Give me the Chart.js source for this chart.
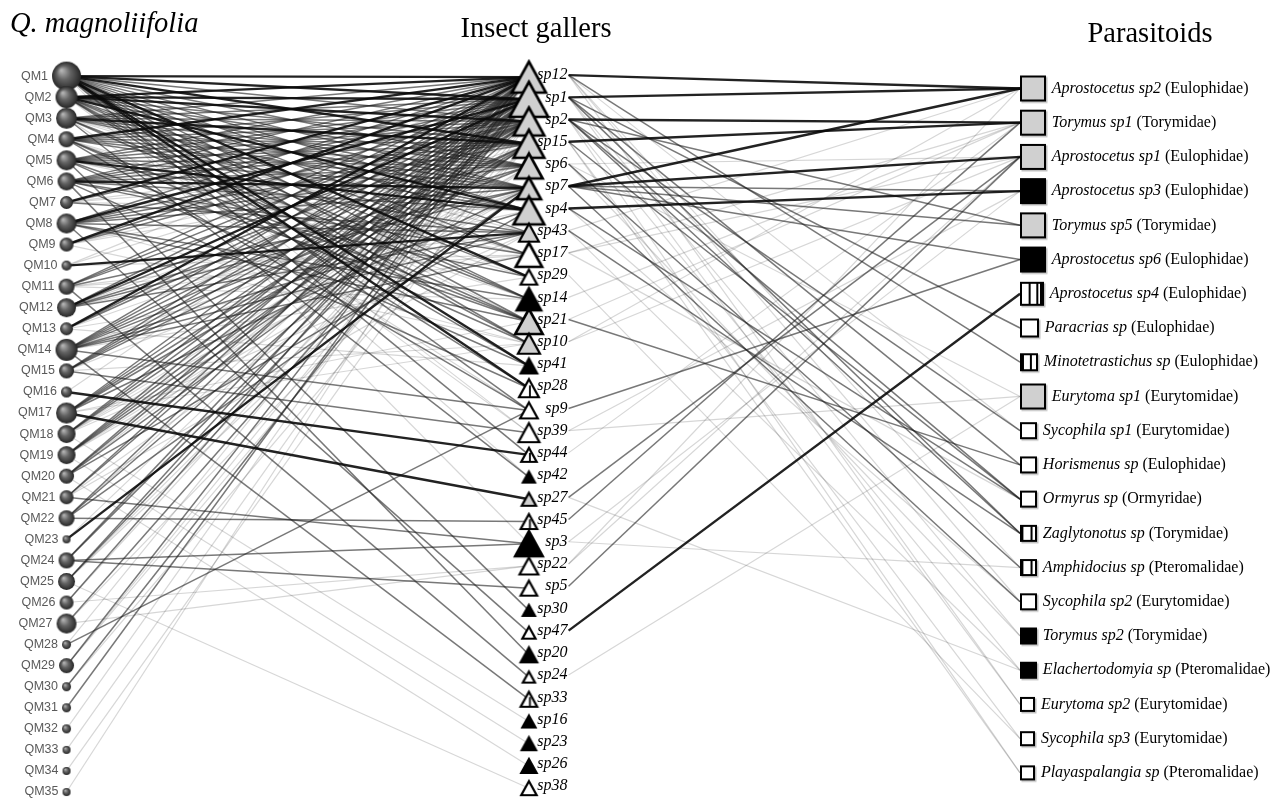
<!DOCTYPE html>
<html>
<head>
<meta charset="utf-8">
<script src="https://cdn.jsdelivr.net/npm/chart.js@4/dist/chart.umd.min.js"></script>
<style>
  html, body { margin: 0; padding: 0; background: #fff; }
  #wrap { width: 1285px; height: 807px; position: relative; }
</style>
</head>
<body>
<div id="wrap"><canvas id="web"></canvas></div>
<script>
// ---- data ----
const hostNames = ["QM1","QM2","QM3","QM4","QM5","QM6","QM7","QM8","QM9","QM10","QM11","QM12",
  "QM13","QM14","QM15","QM16","QM17","QM18","QM19","QM20","QM21","QM22","QM23","QM24",
  "QM25","QM26","QM27","QM28","QM29","QM30","QM31","QM32","QM33","QM34","QM35"];
const hostSize = [14.5,11,10.5,8,10,9,6.5,10,7,5,8,9.5,6.5,11,7.5,5.5,10.5,9,9,7.5,7,8,4,8,
  8.5,7,10,4.5,7.5,4.5,4.5,4.5,4,4,4];

const gallerNames = ["sp12","sp1","sp2","sp15","sp6","sp7","sp4","sp43","sp17","sp29","sp14",
  "sp21","sp10","sp41","sp28","sp9","sp39","sp44","sp42","sp27","sp45","sp3","sp22","sp5",
  "sp30","sp47","sp20","sp24","sp33","sp16","sp23","sp26","sp38"];
const gallerSize = [31,35,28,28,25,22,28,18,24,15,22,25,20,15,18,16,19,14,11,13,15,25,17,15,
  11,12,15,11,15,12,13,14,14];
// g = grey, w = white, h = white with bar, b = black
const gallerFill = ["g","g","g","g","g","g","g","g","w","w","b","g","g","b","h","w","w","h","b",
  "g","h","b","w","w","b","w","b","w","h","b","b","b","w"];

const parasitoidGenus = ["Aprostocetus sp2","Torymus sp1","Aprostocetus sp1","Aprostocetus sp3",
  "Torymus sp5","Aprostocetus sp6","Aprostocetus sp4","Paracrias sp","Minotetrastichus sp",
  "Eurytoma sp1","Sycophila sp1","Horismenus sp","Ormyrus sp","Zaglytonotus sp","Amphidocius sp",
  "Sycophila sp2","Torymus sp2","Elachertodomyia sp","Eurytoma sp2","Sycophila sp3","Playaspalangia sp"];
const parasitoidFamily = ["Eulophidae","Torymidae","Eulophidae","Eulophidae","Torymidae","Eulophidae",
  "Eulophidae","Eulophidae","Eulophidae","Eurytomidae","Eurytomidae","Eulophidae","Ormyridae",
  "Torymidae","Pteromalidae","Eurytomidae","Torymidae","Pteromalidae","Eurytomidae","Eurytomidae",
  "Pteromalidae"];
const parasitoidSize = [26,26,26,26,26,26,24,19,18,26,17,17,17,17,17,17,17,17,15,15,15];
const parasitoidFill = ["g","g","g","b","g","b","h3","w","h2","g","w","w","w","h1","h1","w","b","b","w","w","w"];

// host -> galler links, strength 1 (faint) .. 3 (heavy)
const hostLinks = [
  ["QM1","sp12",3],["QM1","sp1",3],["QM1","sp2",2],["QM1","sp15",3],["QM1","sp6",2],["QM1","sp7",2],
  ["QM1","sp4",2],["QM1","sp43",2],["QM1","sp17",2],["QM1","sp29",3],["QM1","sp14",2],["QM1","sp21",2],
  ["QM1","sp41",3],["QM1","sp10",2],["QM1","sp28",3],["QM1","sp9",2],["QM1","sp3",1],["QM1","sp39",1],
  ["QM1","sp44",2],["QM1","sp42",1],
  ["QM2","sp12",3],["QM2","sp1",3],["QM2","sp2",3],["QM2","sp15",2],["QM2","sp6",2],["QM2","sp7",2],
  ["QM2","sp4",3],["QM2","sp17",2],["QM2","sp14",2],["QM2","sp28",2],["QM2","sp39",1],["QM2","sp21",1],
  ["QM2","sp10",2],["QM2","sp41",2],["QM2","sp29",2],
  ["QM3","sp12",2],["QM3","sp1",2],["QM3","sp2",2],["QM3","sp15",3],["QM3","sp6",2],["QM3","sp7",2],
  ["QM3","sp14",2],["QM3","sp21",2],["QM3","sp42",2],["QM3","sp43",1],["QM3","sp4",2],["QM3","sp17",1],
  ["QM3","sp9",1],
  ["QM4","sp12",3],["QM4","sp1",2],["QM4","sp2",2],["QM4","sp6",2],["QM4","sp4",2],["QM4","sp10",2],
  ["QM4","sp9",2],["QM4","sp29",1],["QM4","sp15",2],["QM4","sp7",2],["QM4","sp21",2],["QM4","sp14",1],
  ["QM5","sp12",2],["QM5","sp1",2],["QM5","sp15",2],["QM5","sp7",2],["QM5","sp4",3],["QM5","sp43",2],
  ["QM5","sp21",2],["QM5","sp41",2],["QM5","sp30",2],["QM5","sp2",2],["QM5","sp6",2],["QM5","sp17",1],
  ["QM6","sp12",2],["QM6","sp1",2],["QM6","sp2",2],["QM6","sp7",3],["QM6","sp6",2],["QM6","sp17",2],
  ["QM6","sp29",2],["QM6","sp20",2],["QM6","sp15",2],["QM6","sp4",2],["QM6","sp28",2],
  ["QM7","sp12",3],["QM7","sp1",2],["QM7","sp15",1],["QM7","sp4",1],["QM7","sp43",2],["QM7","sp6",1],
  ["QM8","sp12",2],["QM8","sp1",3],["QM8","sp2",2],["QM8","sp15",2],["QM8","sp7",2],["QM8","sp43",2],
  ["QM8","sp14",2],["QM8","sp21",2],["QM8","sp47",2],["QM8","sp6",2],["QM8","sp10",1],
  ["QM9","sp12",3],["QM9","sp1",2],["QM9","sp6",1],["QM9","sp10",1],["QM9","sp2",2],["QM9","sp15",1],
  ["QM10","sp43",3],["QM10","sp12",1],["QM10","sp17",1],["QM10","sp2",1],
  ["QM11","sp12",2],["QM11","sp1",2],["QM11","sp7",2],["QM11","sp17",1],["QM11","sp24",2],
  ["QM11","sp2",2],["QM11","sp43",1],["QM11","sp14",1],
  ["QM12","sp12",2],["QM12","sp1",3],["QM12","sp2",2],["QM12","sp15",1],["QM12","sp4",1],
  ["QM12","sp7",2],["QM12","sp43",2],["QM12","sp6",2],
  ["QM13","sp12",3],["QM13","sp2",2],["QM13","sp6",1],["QM13","sp41",1],["QM13","sp1",2],["QM13","sp17",1],
  ["QM14","sp12",2],["QM14","sp1",2],["QM14","sp2",2],["QM14","sp15",2],["QM14","sp7",1],["QM14","sp43",2],
  ["QM14","sp17",2],["QM14","sp29",1],["QM14","sp9",2],["QM14","sp33",2],["QM14","sp6",2],["QM14","sp4",2],
  ["QM15","sp12",2],["QM15","sp1",2],["QM15","sp2",2],["QM15","sp10",1],["QM15","sp39",2],
  ["QM15","sp15",2],["QM15","sp7",1],
  ["QM16","sp44",3],["QM16","sp12",1],
  ["QM17","sp27",3],["QM17","sp12",2],["QM17","sp1",2],["QM17","sp21",1],["QM17","sp10",1],
  ["QM17","sp2",2],["QM17","sp15",2],["QM17","sp7",2],
  ["QM18","sp12",2],["QM18","sp1",2],["QM18","sp15",1],["QM18","sp7",1],["QM18","sp16",1],
  ["QM18","sp2",2],["QM18","sp6",1],["QM18","sp43",1],
  ["QM19","sp12",2],["QM19","sp1",2],["QM19","sp2",2],["QM19","sp6",1],["QM19","sp23",1],
  ["QM19","sp15",2],["QM19","sp7",1],
  ["QM20","sp12",2],["QM20","sp1",2],["QM20","sp4",2],["QM20","sp26",1],["QM20","sp2",1],["QM20","sp15",2],
  ["QM21","sp3",2],["QM21","sp1",2],["QM21","sp43",1],["QM21","sp12",2],["QM21","sp6",1],
  ["QM22","sp45",2],["QM22","sp2",2],["QM22","sp7",2],["QM22","sp12",2],["QM22","sp1",1],
  ["QM23","sp7",3],["QM23","sp1",1],
  ["QM24","sp5",2],["QM24","sp12",2],["QM24","sp1",2],["QM24","sp3",2],
  ["QM25","sp12",2],["QM25","sp1",2],["QM25","sp2",1],["QM25","sp38",1],["QM25","sp15",1],
  ["QM26","sp22",1],["QM26","sp12",2],["QM26","sp1",1],
  ["QM27","sp22",1],["QM27","sp1",2],["QM27","sp15",1],
  ["QM28","sp9",2],["QM28","sp12",1],
  ["QM29","sp12",2],["QM29","sp2",1],["QM29","sp1",1],
  ["QM30","sp1",2],["QM30","sp15",1],
  ["QM31","sp12",2],
  ["QM32","sp12",1],
  ["QM33","sp1",1],
  ["QM34","sp2",1],
  ["QM35","sp12",1]
];

// galler -> parasitoid links (parasitoid index into parasitoidGenus)
const parasitoidLinks = [
  ["sp12",0,3],["sp12",8,2],["sp12",18,1],["sp12",10,1],["sp12",15,1],["sp12",14,1],
  ["sp1",0,3],["sp1",11,2],["sp1",18,1],["sp1",7,2],["sp1",16,1],["sp1",13,2],
  ["sp2",1,3],["sp2",4,2],["sp2",13,2],["sp2",20,1],["sp2",10,2],["sp2",17,1],["sp2",12,2],
  ["sp15",1,3],["sp15",12,2],["sp15",19,1],["sp15",20,1],
  ["sp6",9,1],["sp6",16,1],["sp6",14,2],["sp6",2,1],
  ["sp7",0,3],["sp7",2,3],["sp7",3,2],["sp7",4,2],["sp7",5,2],["sp7",15,2],
  ["sp4",3,3],["sp4",15,1],["sp4",12,2],
  ["sp43",13,2],["sp43",17,1],["sp43",0,1],
  ["sp17",12,1],["sp17",1,1],["sp17",2,1],
  ["sp29",19,1],
  ["sp14",1,1],
  ["sp21",1,1],["sp21",11,2],
  ["sp10",2,1],["sp10",0,1],
  ["sp9",5,2],
  ["sp39",3,1],["sp39",9,1],
  ["sp44",1,1],
  ["sp27",2,2],["sp27",17,1],
  ["sp45",1,2],
  ["sp3",14,1],["sp3",3,1],
  ["sp22",0,1],["sp22",2,1],
  ["sp5",2,2],
  ["sp47",6,3],
  ["sp24",9,1]
];

// ---- layout ----
const HOST_X = 62, GALLER_X = 528, GALLER_LABEL_RIGHT = 567, PARA_LEFT = 1023;
const hostY = (i) => 72 + i * 21.32;
const gallerY = (i) => 71 + i * 22.5;
const paraY = (i) => 84.5 + i * 34.65;

const edgeStyle = {
  3: { color: "rgba(10,10,10,0.9)", width: 2.4, order: 1 },
  2: { color: "rgba(30,30,30,0.6)", width: 1.5, order: 2 },
  1: { color: "rgba(0,0,0,0.16)", width: 1.2, order: 3 },
};

function sphere(r) {
  const s = Math.ceil(r * 2 + 2);
  const c = document.createElement("canvas");
  c.width = c.height = s;
  const g = c.getContext("2d");
  const cx = s / 2, cy = s / 2;
  const grad = g.createRadialGradient(cx - r * 0.35, cy - r * 0.4, r * 0.05, cx, cy, r);
  grad.addColorStop(0, "#b4b4b4");
  grad.addColorStop(0.45, "#636363");
  grad.addColorStop(1, "#262626");
  g.fillStyle = grad;
  g.beginPath();
  g.arc(cx, cy, r, 0, Math.PI * 2);
  g.fill();
  return c;
}

function triangle(h, fill) {
  const w = h * 1.1;
  const lw = h > 20 ? 2.6 : 2.2;
  const pad = 3;
  const c = document.createElement("canvas");
  c.width = Math.ceil(w + pad * 2);
  c.height = Math.ceil(h + pad * 2);
  const g = c.getContext("2d");
  const cx = c.width / 2;
  g.beginPath();
  g.moveTo(cx, pad);
  g.lineTo(cx + w / 2, pad + h);
  g.lineTo(cx - w / 2, pad + h);
  g.closePath();
  g.fillStyle = fill === "g" ? "#d0d0d0" : fill === "b" ? "#000" : "#fff";
  g.fill();
  g.lineJoin = "miter";
  g.lineWidth = lw;
  g.strokeStyle = "#000";
  g.stroke();
  if (fill === "h") {
    g.beginPath();
    g.moveTo(cx + 1, pad + h * 0.35);
    g.lineTo(cx + 1, pad + h);
    g.lineWidth = 1.8;
    g.stroke();
  }
  return c;
}

function box(side, fill) {
  const pad = 3;
  const c = document.createElement("canvas");
  c.width = c.height = Math.ceil(side + pad * 2);
  const g = c.getContext("2d");
  const x0 = pad, y0 = pad;
  g.fillStyle = "rgba(0,0,0,0.25)";
  g.fillRect(x0 + 1.5, y0 + 1.5, side, side);
  g.fillStyle = fill === "g" ? "#d0d0d0" : fill === "b" ? "#000" : "#fff";
  g.fillRect(x0, y0, side, side);
  g.lineWidth = 2;
  g.strokeStyle = "#000";
  g.strokeRect(x0 + 1, y0 + 1, side - 2, side - 2);
  g.fillStyle = "#000";
  if (fill === "h3") {
    g.fillRect(x0 + side * 0.36, y0, 2, side);
    g.fillRect(x0 + side * 0.68, y0, 2, side);
    g.fillRect(x0 + side - 4, y0, 4, side);
  } else if (fill === "h2") {
    g.fillRect(x0, y0, side * 0.22, side);
    g.fillRect(x0 + side * 0.55, y0, 2, side);
  } else if (fill === "h1") {
    g.fillRect(x0, y0, side * 0.2, side);
    g.fillRect(x0 + side * 0.62, y0, 2, side);
  }
  return c;
}

// ---- datasets ----
const gallerIndex = Object.fromEntries(gallerNames.map((n, i) => [n, i]));
const hostIndex = Object.fromEntries(hostNames.map((n, i) => [n, i]));

const datasets = [];

datasets.push({
  type: "scatter",
  data: hostNames.map((_, i) => ({ x: HOST_X, y: hostY(i) })),
  pointStyle: hostSize.map((r) => sphere(r)),
  order: 0,
  clip: false,
});
datasets.push({
  type: "scatter",
  data: gallerNames.map((_, i) => ({ x: GALLER_X, y: gallerY(i) + 2 })),
  pointStyle: gallerSize.map((h, i) => triangle(h, gallerFill[i])),
  order: 0,
  clip: false,
});
datasets.push({
  type: "scatter",
  data: parasitoidGenus.map((_, i) => ({ x: PARA_LEFT + parasitoidSize[i] / 2, y: paraY(i) })),
  pointStyle: parasitoidSize.map((s, i) => box(s, parasitoidFill[i])),
  order: 0,
  clip: false,
});

function edge(x1, y1, x2, y2, w) {
  const st = edgeStyle[w];
  datasets.push({
    type: "line",
    data: [{ x: x1, y: y1 }, { x: x2, y: y2 }],
    borderColor: st.color,
    borderWidth: st.width,
    pointRadius: 0,
    showLine: true,
    order: st.order,
    clip: false,
  });
}

hostLinks.forEach(([h, s, w]) => {
  edge(HOST_X, hostY(hostIndex[h]), GALLER_X, gallerY(gallerIndex[s]) + 2, w);
});
parasitoidLinks.forEach(([s, p, w]) => {
  edge(GALLER_LABEL_RIGHT + 1, gallerY(gallerIndex[s]), PARA_LEFT, paraY(p), w);
});

// ---- labels and column titles ----
const labelPlugin = {
  id: "nodeLabels",
  afterDatasetsDraw(chart) {
    const { ctx, scales: { x, y } } = chart;
    ctx.save();
    ctx.textBaseline = "middle";

    ctx.fillStyle = "#5a5a5a";
    ctx.font = '12.5px "Liberation Sans", Arial, sans-serif';
    ctx.textAlign = "right";
    hostNames.forEach((n, i) => {
      ctx.fillText(n, x.getPixelForValue(HOST_X) - hostSize[i] - 4, y.getPixelForValue(hostY(i)));
    });

    ctx.fillStyle = "#000";
    ctx.font = 'italic 16px "Liberation Serif", "Times New Roman", serif';
    gallerNames.forEach((n, i) => {
      ctx.fillText(n, x.getPixelForValue(GALLER_LABEL_RIGHT), y.getPixelForValue(gallerY(i)));
    });

    ctx.textAlign = "left";
    parasitoidGenus.forEach((n, i) => {
      const lx = x.getPixelForValue(PARA_LEFT + parasitoidSize[i] + 6);
      const ly = y.getPixelForValue(paraY(i));
      ctx.font = 'italic 16px "Liberation Serif", "Times New Roman", serif';
      ctx.fillText(n, lx, ly);
      const wItalic = ctx.measureText(n + " ").width;
      ctx.font = '16px "Liberation Serif", "Times New Roman", serif';
      ctx.fillText("(" + parasitoidFamily[i] + ")", lx + wItalic, ly);
    });

    ctx.textBaseline = "alphabetic";
    ctx.font = 'italic 28.5px "Liberation Serif", "Times New Roman", serif';
    ctx.fillText("Q. magnoliifolia", 10, 32);
    ctx.font = '28.5px "Liberation Serif", "Times New Roman", serif';
    ctx.textAlign = "center";
    ctx.fillText("Insect gallers", 536, 37);
    ctx.fillText("Parasitoids", 1150, 42);
    ctx.restore();
  },
};

new Chart(document.getElementById("web"), {
  type: "scatter",
  data: { datasets },
  options: {
    responsive: true,
    maintainAspectRatio: false,
    animation: false,
    events: [],
    layout: { padding: 0 },
    plugins: { legend: { display: false }, tooltip: { enabled: false } },
    scales: {
      x: { type: "linear", min: 0, max: 1285, display: false },
      y: { type: "linear", min: 0, max: 807, reverse: true, display: false },
    },
  },
  plugins: [labelPlugin],
});
</script>
</body>
</html>
